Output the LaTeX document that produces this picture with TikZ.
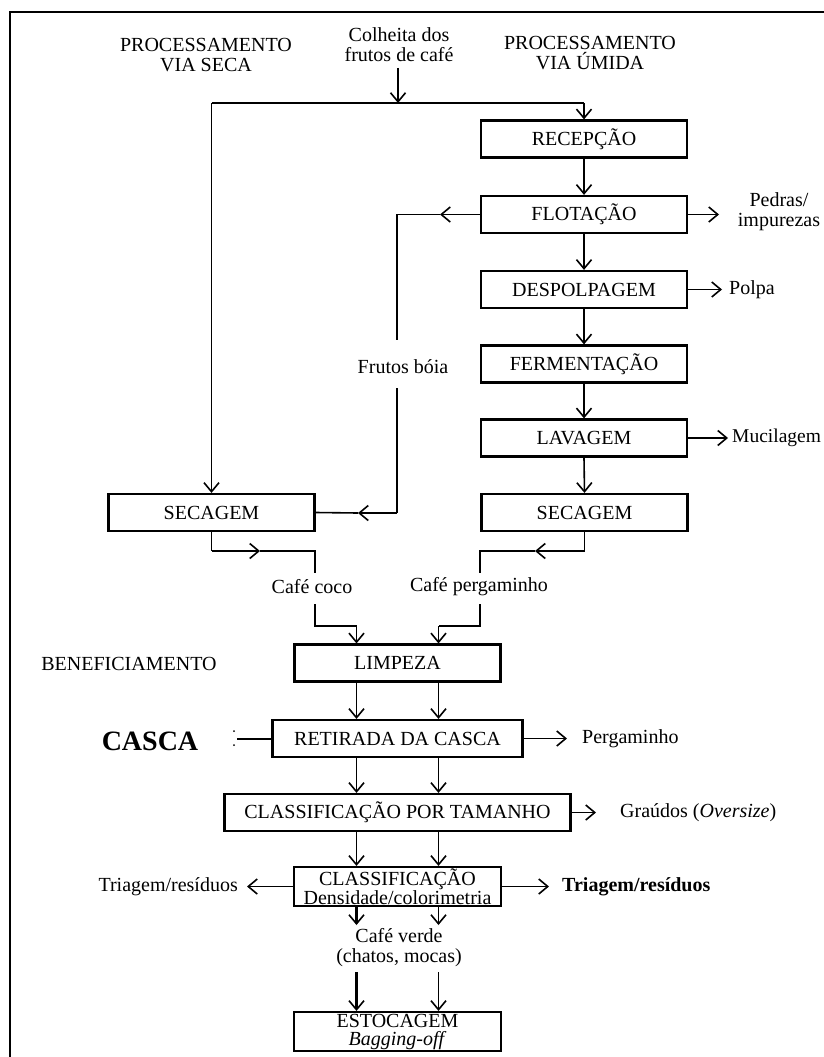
\documentclass[tikz,border=0pt]{standalone}
\usepackage{fontspec}
\setmainfont{Liberation Serif}
\usetikzlibrary{arrows.meta}
\begin{document}
\begin{tikzpicture}[x=1pt,y=-1pt,
  box/.style={draw,line width=2.2pt,minimum width=206pt,minimum height=37pt,inner sep=0pt,font=\fontsize{20}{18}\selectfont,align=center},
  lbl/.style={font=\fontsize{20}{20}\selectfont,inner sep=0pt,align=center},
  con/.style={line width=1.6pt},
  arr/.style={con,-{Straight Barb[length=9pt,width=15pt,line width=1.6pt]}},
  thickarr/.style={arr,line width=2.4pt},
]
\useasboundingbox (0,0) rectangle (823,1057);
% frame
\coordinate (fr1) at (830,12);
\coordinate (fr2) at (10,12);
\coordinate (fr3) at (10,1065);
\draw[line width=2.5pt] (fr1) -- (fr2) -- (fr3);

% headings
\node[lbl] (pvs) at (206,55) {PROCESSAMENTO\\VIA SECA};
\node[lbl] (col) at (399,45) {Colheita dos\\frutos de café};
\node[lbl] (pvu) at (590,53) {PROCESSAMENTO\\VIA ÚMIDA};
\node[lbl] (ben) at (129,664) {BENEFICIAMENTO};

% boxes
\node[box] (rec) at (584,139) {RECEPÇÃO};
\node[box] (flo) at (584,214.5) {FLOTAÇÃO};
\node[box] (des) at (584,289.5) {DESPOLPAGEM};
\node[box] (fer) at (584,364) {FERMENTAÇÃO};
\node[box] (lav) at (584,438) {LAVAGEM};
\node[box] (secR) at (584.5,512.5) {SECAGEM};
\node[box] (secL) at (211.5,512.5) {SECAGEM};
\node[box] (lim) at (397.5,663) {LIMPEZA};
\node[box,minimum width=250pt] (ret) at (397.5,738.5) {RETIRADA DA CASCA};
\node[box,minimum width=346pt] (cla) at (397.5,812.5) {CLASSIFICAÇÃO POR TAMANHO};
\node[box,minimum width=207pt,minimum height=39pt] (den) at (397.5,886.5) {CLASSIFICAÇÃO\\Densidade/colorimetria};
\node[box,minimum width=207pt,minimum height=39pt] (est) at (397.5,1031.5) {ESTOCAGEM\\\textit{Bagging-off}};

% top split
\coordinate (colb) at (398,68);
\coordinate (j) at (398,103);
\coordinate (jl) at (211.5,103);
\coordinate (jr) at (584,103);
\draw[arr] (colb) -- (j);
\draw[con] (jl) -- (jr);
\draw[arr] (jr) -- (rec.north);
\draw[arr] (jl) -- (secL.north);

% wet chain
\draw[arr] (rec.south) -- (flo.north);
\draw[arr] (flo.south) -- (des.north);
\draw[arr] (des.south) -- (fer.north);
\draw[arr] (fer.south) -- (lav.north);
\draw[arr] (lav.south) -- (secR.north);

% side outputs
\coordinate (pedA) at (719,214.5);
\node[lbl] (ped) at (779,212) {Pedras/\\impurezas};
\draw[arr] (flo.east) -- (pedA);
\coordinate (polA) at (722,289.5);
\node[lbl,anchor=west] (pol) at (729,289.5) {Polpa};
\draw[arr] (des.east) -- (polA);
\coordinate (mucA) at (728,438);
\node[lbl,anchor=west,font=\fontsize{19.5}{20}\selectfont] (muc) at (732,438) {Mucilagem};
\draw[arr] (lav.east) -- (mucA);

% frutos boia
\coordinate (fb1) at (440,214.5);
\coordinate (fb2) at (397,214.5);
\coordinate (fb3) at (397,340);
\node[lbl] (fbl) at (403,367) {Frutos bóia};
\coordinate (fb4) at (397,388);
\coordinate (fb5) at (397,513);
\coordinate (fb6) at (358,513);
\draw[arr] (flo.west) -- (fb1);
\draw[con] (fb1) -- (fb2) -- (fb3);
\draw[con] (fb4) -- (fb5);
\draw[arr] (fb5) -- (fb6);
\draw[con] (fb6) -- (secL.east);

% cafe coco
\coordinate (c1) at (211.5,551);
\coordinate (c2) at (260,551);
\coordinate (c3) at (315,551);
\coordinate (c4) at (315,573);
\node[lbl] (cc) at (312,587) {Café coco};
\coordinate (c5) at (315,604);
\coordinate (c6) at (315,626);
\coordinate (c7) at (356.5,626);
\draw[con] (secL.south) -- (c1);
\draw[arr] (c1) -- (c2);
\draw[con] (c2) -- (c3) -- (c4);
\draw[con] (c5) -- (c6) -- (c7);
\draw[arr] (c7) -- (lim.north -| c7);

% cafe pergaminho
\coordinate (d1) at (584.5,551);
\coordinate (d2) at (535,551);
\coordinate (d3) at (480,551);
\coordinate (d4) at (480,573);
\node[lbl] (cp) at (479,587) {Café pergaminho};
\coordinate (d5) at (480,604);
\coordinate (d6) at (480,626);
\coordinate (d7) at (438.5,626);
\draw[con] (secR.south) -- (d1);
\draw[arr] (d1) -- (d2);
\draw[con] (d2) -- (d3) -- (d4);
\draw[con] (d5) -- (d6) -- (d7);
\draw[arr] (d7) -- (lim.north -| d7);

% beneficiamento chain
\draw[arr] ([xshift=-41pt]lim.south) -- ([xshift=-41pt]ret.north);
\draw[arr] ([xshift=41pt]lim.south) -- ([xshift=41pt]ret.north);
\draw[arr] ([xshift=-41pt]ret.south) -- ([xshift=-41pt]cla.north);
\draw[arr] ([xshift=41pt]ret.south) -- ([xshift=41pt]cla.north);
\draw[arr] ([xshift=-41pt]cla.south) -- ([xshift=-41pt]den.north);
\draw[arr] ([xshift=41pt]cla.south) -- ([xshift=41pt]den.north);

% casca
\node[font=\bfseries\fontsize{28}{28}\selectfont,inner sep=0pt] (casca) at (150,741) {CASCA};
\fill (234,731) circle (1pt);
\fill (234,745) circle (1pt);
\coordinate (cl) at (237,738.5);
\draw[con,line width=2pt] (cl) -- (ret.west);

% pergaminho, graudos
\coordinate (perA) at (567,738.5);
\node[lbl,anchor=west] (per) at (582,739) {Pergaminho};
\draw[arr] (ret.east) -- (perA);
\coordinate (graA) at (596,812.5);
\node[lbl,anchor=west] (gra) at (620,812.5) {Graúdos (\textit{Oversize})};
\draw[arr] (cla.east) -- (graA);

% triagem
\coordinate (triL) at (247,886.5);
\node[lbl,anchor=east] (tl) at (238,887) {Triagem/resíduos};
\draw[arr] (den.west) -- (triL);
\coordinate (triR) at (549,886.5);
\node[lbl,anchor=west,font=\bfseries\fontsize{20}{20}\selectfont] (tr) at (562,887) {Triagem/resíduos};
\draw[arr] (den.east) -- (triR);

% cafe verde
\coordinate (v1) at (356.5,925);
\coordinate (v2) at (438.5,925);
\node[lbl] (cv) at (399,948) {Café verde\\(chatos, mocas)};
\coordinate (v3) at (356.5,972);
\coordinate (v4) at (438.5,972);
\draw[thickarr] (den.south -| v1) -- (v1);
\draw[arr] (den.south -| v2) -- (v2);
\draw[thickarr] (v3) -- (est.north -| v3);
\draw[arr] (v4) -- (est.north -| v4);
\end{tikzpicture}
\end{document}
